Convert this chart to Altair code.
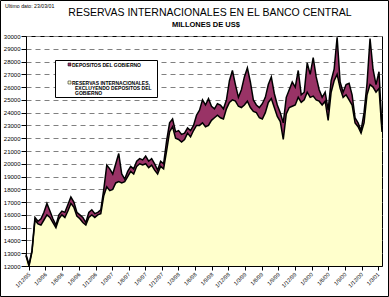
import altair as alt
import pandas as pd

# ---------------- data (millones de US$) ----------------
fecha_inicio = (1995, 11, 15)
fecha_fin = (2001, 3, 23)

total_con_depositos = [
    12900, 12100, 13200, 15800, 15500, 15700, 16200, 16900, 16300, 15700,
    15200, 16000, 16300, 16200, 16800, 17400, 17000, 16200, 16000, 15800,
    15400, 16200, 16400, 16100, 16200, 16400, 18000, 19900, 19600, 19200,
    20000, 20800, 19200, 18800, 19400, 19800, 19600, 20200, 20400, 20300,
    20600, 20200, 20400, 20000, 19500, 20200, 20000, 21800, 23200, 23500,
    22500, 22600, 22300, 22400, 22800, 22600, 23000, 23800, 24200, 25000,
    24600, 25100, 24500, 24300, 24700, 24600, 24300, 25000, 26500, 27300,
    26200, 25200, 25800, 26800, 27500, 26400, 25000, 24600, 24400, 24700,
    25200, 26200, 26800, 25500, 24600, 24000, 23200, 25200, 25800, 26400,
    26000, 27300, 25400, 25600, 27900, 27000, 28300, 26800, 25800, 25200,
    25600, 24200, 26500, 27400, 29900, 26400, 25600, 26200, 26300, 25400,
    23600, 23200, 22600, 24000, 26300, 29800, 27400, 26200, 27200, 22700,
]

reservas_sin_depositos = [
    12800, 12000, 13100, 15600, 15300, 15200, 15600, 16000, 15800, 15400,
    15000, 15700, 16000, 15800, 16300, 16900, 16600, 15900, 15700, 15400,
    15200, 15800, 16000, 15800, 16000, 16100, 17500, 18200, 17900, 18000,
    18500, 18600, 18500, 18600, 19000, 19400, 19200, 19800, 20000, 19900,
    20000, 19700, 19900, 19500, 19200, 19800, 19600, 21000, 22500, 22900,
    22000, 21900, 21700, 21900, 22400, 22100, 22600, 23000, 23000, 23200,
    22900, 23000, 23400, 23600, 23800, 23600, 23500, 24300, 24800, 25000,
    24900, 24500, 24400, 24600, 24900, 24400, 24100, 24000, 23600, 23500,
    24000, 24800, 25100, 24400, 23700, 23300, 21900, 23900, 24400, 24500,
    24600, 25200, 24800, 25000, 25600, 25200, 25300, 25000, 24900, 24600,
    24900, 23400, 25600, 26500, 27000, 25900, 25200, 25400, 25000, 24600,
    23200, 22900, 22400, 23200, 25400, 26200, 26000, 25600, 25900, 22500,
]

tick_fechas = [
    (1995, 12, 1),
    (1996, 3, 1), (1996, 6, 1), (1996, 9, 1), (1996, 12, 1),
    (1997, 3, 1), (1997, 6, 1), (1997, 9, 1), (1997, 12, 1),
    (1998, 3, 1), (1998, 6, 1), (1998, 9, 1), (1998, 12, 1),
    (1999, 3, 1), (1999, 6, 1), (1999, 9, 1), (1999, 12, 1),
    (2000, 3, 1), (2000, 6, 1), (2000, 9, 1), (2000, 12, 1),
    (2001, 3, 1),
]
y_ticks = list(range(12000, 30001, 1000))
y_min, y_max = 12000, 30000

titulo = "RESERVAS INTERNACIONALES EN EL BANCO CENTRAL"
subtitulo = "MILLONES DE US$"
nota = "Ultimo dato: 23/03/01"
leyenda_1 = "DEPOSITOS DEL GOBIERNO"
leyenda_2 = ["RESERVAS INTERNACIONALES,", "EXCLUYENDO DEPOSITOS DEL", "GOBIERNO"]

MAROON = "#993366"
YELLOW = "#FFFFCC"
FONT = "Liberation Sans"

# ---------------- table ----------------
fechas = pd.date_range(pd.Timestamp(*fecha_inicio), pd.Timestamp(*fecha_fin),
                       periods=len(total_con_depositos))
df = pd.DataFrame({
    "fecha": fechas,
    "total": total_con_depositos,
    "sin_dep": reservas_sin_depositos,
    "base": y_min,
})

def dt(t):
    return alt.DateTime(year=t[0], month=t[1], date=t[2])

x_enc = alt.X(
    "fecha:T",
    scale=alt.Scale(domain=[dt(fecha_inicio), dt(fecha_fin)]),
    axis=alt.Axis(
        values=[dt(t) for t in tick_fechas], format="%-d/%-m/%y",
        labelAngle=-45, labelAlign="right", labelBaseline="middle",
        labelFontSize=5.5, labelFont=FONT, labelColor="black",
        tickSize=4, tickColor="black", domainColor="black",
        labelPadding=3, grid=False, title=None, labelOverlap=False,
    ),
)
y_axis = alt.Axis(
    values=y_ticks, format="d", labelFontSize=6, labelFont=FONT,
    labelColor="black", tickSize=5, tickColor="black", domainColor="black",
    labelPadding=1, grid=True, gridDash=[5, 4], gridColor="#808080",
    gridWidth=1, title=None,
)
y_scale = alt.Scale(domain=[y_min, y_max], nice=False, zero=False)

base = alt.Chart(df)

area_total = base.mark_area(color=MAROON).encode(
    x=x_enc, y=alt.Y("total:Q", scale=y_scale, axis=y_axis), y2="base:Q")
area_sin = base.mark_area(color=YELLOW).encode(
    x=x_enc, y=alt.Y("sin_dep:Q", scale=y_scale, axis=y_axis), y2="base:Q")
line_total = base.mark_line(color="black", strokeWidth=1.5).encode(
    x=x_enc, y=alt.Y("total:Q", scale=y_scale, axis=y_axis))
line_sin = base.mark_line(color="black", strokeWidth=1.5).encode(
    x=x_enc, y=alt.Y("sin_dep:Q", scale=y_scale, axis=y_axis))

one = alt.Chart(pd.DataFrame({"k": [0]}))

# legend box
leg_box = one.mark_rect(fill="white", stroke="black", strokeWidth=1).encode(
    x=alt.value(29.5), x2=alt.value(131.5), y=alt.value(24.5), y2=alt.value(61.5))
sq1 = one.mark_rect(fill=MAROON, stroke="black", strokeWidth=0.5).encode(
    x=alt.value(42), x2=alt.value(45), y=alt.value(27), y2=alt.value(30))
sq2 = one.mark_rect(fill=YELLOW, stroke="black", strokeWidth=0.5).encode(
    x=alt.value(42), x2=alt.value(45), y=alt.value(45), y2=alt.value(48))

def txt(s, x, y, size, bold=False, align="left"):
    return one.mark_text(
        text=s, font=FONT, fontSize=size, fontWeight="bold" if bold else "normal",
        align=align, baseline="middle", color="black",
    ).encode(x=alt.value(x), y=alt.value(y))

leg_t1 = txt(leyenda_1, 46, 28.5, 5, bold=True)
leg_t2 = txt(leyenda_2[0], 46, 46.5, 5, bold=True)
leg_t3 = txt(leyenda_2[1], 49, 51.5, 5, bold=True)
leg_t4 = txt(leyenda_2[2], 49, 57, 5, bold=True)

t_title = txt(titulo, 184, -23, 10.5, align="center")
t_sub = txt(subtitulo, 180, -11.5, 7.5, bold=True, align="center")
t_nota = txt(nota, -21, -30, 5.2)

frame = one.mark_rect(fillOpacity=0, stroke="black", strokeWidth=1).encode(
    x=alt.value(-25.5), x2=alt.value(362.5), y=alt.value(-35.5), y2=alt.value(260.5))

chart = alt.layer(
    area_total, area_sin, line_total, line_sin,
    leg_box, sq1, sq2, leg_t1, leg_t2, leg_t3, leg_t4,
    t_title, t_sub, t_nota, frame,
).properties(
    width=356, height=230,
    autosize=alt.AutoSizeParams(type="none"),
    padding={"left": 26, "top": 36, "right": 7, "bottom": 31},
    background="white",
).configure_view(stroke="black", strokeWidth=1)

chart.save("out.html", embed_options={"renderer": "svg", "actions": False})
